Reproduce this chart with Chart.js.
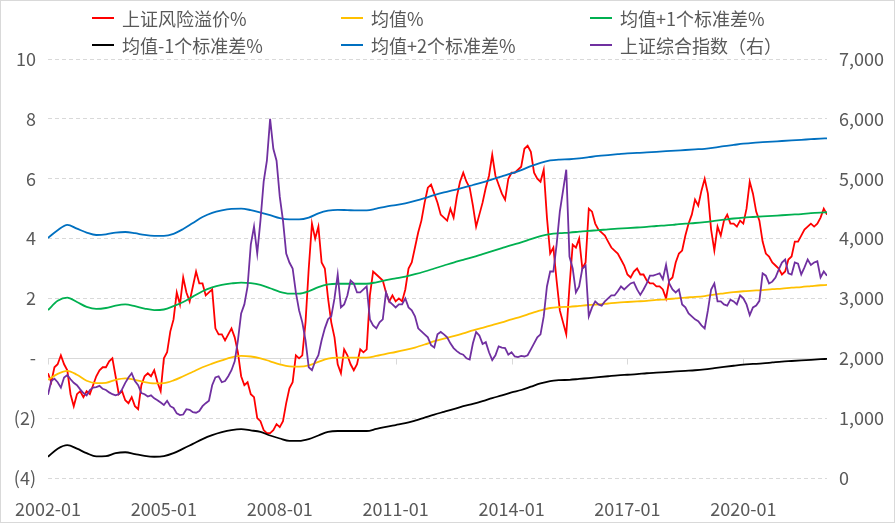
<!DOCTYPE html>
<html>
<head>
<meta charset="utf-8">
<script src="https://cdn.jsdelivr.net/npm/chart.js@4.4.1/dist/chart.umd.min.js"></script>
<style>
  body { margin: 0; background: #fff; }
  #wrap { position: relative; width: 895px; height: 523px; }
  #legend { position: absolute; left: 0; top: 0; width: 895px; height: 59px;
            font: 18px "Noto Sans CJK SC", sans-serif; color: #595959; }
  .item { position: absolute; line-height: 22px; white-space: nowrap; }
  .item i { position: absolute; left: -30px; top: 10px; width: 22px; height: 2px; }
</style>
</head>
<body>
<div id="wrap"><canvas id="chart"></canvas><div id="legend"></div></div>
<script>
// x axis = months since 2002-01
const tickMonths = [0, 36, 72, 108, 144, 180, 216];
const tickLabels = ["2002-01", "2005-01", "2008-01", "2011-01", "2014-01", "2017-01", "2020-01"];

const seriesNames = ["上证风险溢价%", "均值%", "均值+1个标准差%", "均值-1个标准差%", "均值+2个标准差%", "上证综合指数（右）"];
const seriesColors = ["#ff0000", "#ffc000", "#00b050", "#000000", "#0070c0", "#7030a0"];

// monthly, 2002-01 .. 2022-03
const premium = [
  -0.5, -0.8, -0.3, -0.2, 0.1, -0.2, -0.4, -1.2, -1.6, -1.2, -1.1, -1.3,
  -1.1, -1.2, -0.9, -0.6, -0.4, -0.3, -0.3, -0.1, 0.0, -0.6, -1.2, -1.1,
  -1.4, -1.5, -1.3, -1.6, -1.7, -0.9, -0.6, -0.5, -0.6, -0.4, -0.8, -1.1,
  0.0, 0.2, 0.9, 1.3, 2.2, 1.8, 2.7, 2.2, 1.9, 2.4, 2.9, 2.5,
  2.5, 2.1, 2.2, 2.3, 1.0, 0.8, 0.8, 0.6, 0.8, 1.0, 0.7, 0.2,
  -0.6, -0.9, -0.8, -1.2, -1.3, -2.0, -2.1, -2.4, -2.5, -2.5, -2.4, -2.2,
  -2.3, -2.1, -1.5, -1.0, -0.8, 0.1, 0.0, 0.1, 1.2, 3.0, 4.5, 4.0,
  4.4, 3.2, 3.0, 2.0, 1.2, 0.7, -0.2, -0.5, 0.3, 0.1, -0.2, -0.4,
  -0.2, 0.3, 0.2, 0.3, 2.1, 2.9, 2.8, 2.7, 2.6, 2.2, 1.9, 2.1,
  1.9, 2.0, 1.9, 2.3, 3.0, 3.2, 3.7, 4.2, 4.6, 5.2, 5.7, 5.8,
  5.5, 5.2, 4.8, 4.7, 4.6, 5.0, 4.7, 5.4, 5.9, 6.2, 5.9, 5.7,
  5.1, 4.4, 4.8, 5.2, 5.7, 6.1, 6.8, 6.1, 5.8, 5.5, 5.3, 6.0,
  6.2, 6.2, 6.3, 6.4, 7.0, 7.1, 6.9, 6.2, 6.0, 5.9, 6.3, 4.7,
  3.5, 3.7, 2.6, 1.6, 1.2, 0.8, 2.4, 3.8, 3.7, 4.0, 3.0, 3.2,
  5.0, 4.9, 4.5, 4.3, 4.2, 4.1, 3.9, 3.7, 3.6, 3.5, 3.3, 3.1,
  2.8, 2.7, 2.9, 3.0, 2.8, 2.8, 2.6, 2.5, 2.5, 2.4, 2.4, 2.3,
  2.0, 2.6, 2.7, 3.2, 3.5, 3.6, 4.1, 4.5, 4.8, 5.3, 5.1, 5.6,
  6.0, 5.5, 4.3, 3.6, 4.4, 4.1, 4.6, 4.8, 4.5, 4.5, 4.4, 4.6,
  4.5, 5.0, 5.9, 5.5, 4.9, 4.6, 3.9, 3.5, 3.4, 3.2, 3.1, 3.0,
  2.8, 2.9, 3.3, 3.4, 3.9, 3.9, 4.1, 4.3, 4.4, 4.5, 4.4, 4.5,
  4.7, 5.0, 4.8
];

const sseIndex = [
  1390, 1620, 1660, 1600, 1510, 1680, 1720, 1650, 1590, 1550, 1480, 1420,
  1380, 1470, 1510, 1520, 1540, 1490, 1470, 1430, 1400, 1380, 1400, 1480,
  1590, 1680, 1750, 1620, 1550, 1420, 1400, 1360, 1380, 1330, 1300, 1260,
  1220, 1290, 1200, 1170, 1080, 1050, 1060, 1150, 1140, 1100, 1090, 1120,
  1200, 1250, 1290, 1550, 1680, 1700, 1600, 1620, 1700, 1800, 1950, 2300,
  2750, 2900, 3200, 3900, 4200, 3750, 4300, 4950, 5300, 6000, 5500, 5300,
  4700, 4300, 3750, 3600, 3500, 3100, 2800, 2600, 2300, 1850, 1800, 1950,
  2050, 2300, 2500, 2650, 2700, 3000, 3400, 2850, 2900, 3050, 3300, 3250,
  3100, 3100, 3150, 3200, 2650, 2550, 2500, 2600, 2650, 3100, 2950, 2900,
  2850, 2900, 2900, 3000, 2850, 2800, 2700, 2500, 2450, 2400, 2350, 2220,
  2180, 2400, 2440, 2400, 2350, 2250, 2170, 2120, 2080, 2060, 2000, 1980,
  2250, 2440, 2380, 2240, 2270, 2100, 1970, 2050, 2200, 2180, 2170, 2060,
  2100, 2030, 2020, 2040, 2030, 2050, 2150, 2250, 2350, 2400, 2700, 3200,
  3450, 3450, 3900, 4450, 4800, 5150, 3700, 3500, 3100, 3200, 3500, 3550,
  2700, 2850, 2950, 2900, 2880, 2950, 3000, 3050, 3050, 3120, 3200, 3150,
  3200, 3250, 3270, 3150, 3060, 3150, 3250, 3380, 3380, 3400, 3420, 3320,
  3560, 3250, 3150, 3100, 3150, 2900, 2850, 2750, 2700, 2650, 2620, 2550,
  2500, 2800, 3150, 3250, 2950, 2950, 2900, 2880, 2980, 2950, 2900, 3050,
  3000, 2900, 2720, 2850, 2880, 2960, 3420, 3380, 3250, 3280, 3350, 3480,
  3600, 3650, 3420, 3400, 3600, 3580, 3400, 3520, 3650, 3560, 3600, 3620,
  3350, 3450, 3380
];

// quarterly points (every 3 months, last one 2022-03)
const bandMonths = [];
for (let m = 0; m <= 240; m += 3) bandMonths.push(m);
bandMonths.push(242);

const meanLine = [
  -0.72, -0.52, -0.42, -0.55, -0.75, -0.83, -0.82, -0.72, -0.67, -0.72, -0.80, -0.84,
  -0.83, -0.74, -0.60, -0.45, -0.30, -0.18, -0.07, 0.03, 0.08, 0.06, 0.00, -0.10,
  -0.20, -0.27, -0.28, -0.24, -0.12, -0.01, 0.02, 0.02, 0.02, 0.02, 0.08, 0.15,
  0.21, 0.28, 0.36, 0.46, 0.57, 0.66, 0.74, 0.83, 0.93, 1.02, 1.11, 1.20,
  1.30, 1.39, 1.50, 1.60, 1.68, 1.71, 1.72, 1.75, 1.78, 1.80, 1.83, 1.86,
  1.88, 1.90, 1.92, 1.95, 1.97, 2.00, 2.03, 2.05, 2.08, 2.13, 2.17, 2.21,
  2.24, 2.26, 2.28, 2.31, 2.33, 2.36, 2.38, 2.41, 2.44, 2.45
];
const plus1Sd = [
  1.61, 1.92, 2.03, 1.88, 1.72, 1.65, 1.68, 1.76, 1.80, 1.74, 1.66, 1.61,
  1.63, 1.74, 1.88, 2.06, 2.24, 2.37, 2.45, 2.50, 2.53, 2.51, 2.45, 2.34,
  2.22, 2.16, 2.16, 2.24, 2.38, 2.47, 2.49, 2.49, 2.49, 2.49, 2.54, 2.61,
  2.67, 2.73, 2.81, 2.90, 3.00, 3.10, 3.20, 3.29, 3.38, 3.48, 3.58, 3.68,
  3.78, 3.87, 3.98, 4.08, 4.15, 4.18, 4.20, 4.23, 4.26, 4.28, 4.31, 4.33,
  4.35, 4.37, 4.39, 4.42, 4.44, 4.47, 4.50, 4.52, 4.55, 4.59, 4.63, 4.67,
  4.70, 4.72, 4.74, 4.76, 4.78, 4.80, 4.82, 4.85, 4.87, 4.88
];
const minus1Sd = [
  -3.29, -3.02, -2.90, -3.02, -3.17, -3.28, -3.27, -3.17, -3.14, -3.20, -3.26, -3.29,
  -3.27, -3.17, -3.02, -2.86, -2.70, -2.57, -2.47, -2.40, -2.37, -2.41, -2.46, -2.58,
  -2.68, -2.76, -2.76, -2.70, -2.58, -2.46, -2.43, -2.43, -2.43, -2.43, -2.36, -2.29,
  -2.23, -2.17, -2.08, -1.98, -1.88, -1.79, -1.70, -1.60, -1.52, -1.43, -1.33, -1.24,
  -1.14, -1.06, -0.95, -0.84, -0.76, -0.73, -0.72, -0.69, -0.66, -0.63, -0.60, -0.57,
  -0.55, -0.53, -0.50, -0.48, -0.46, -0.44, -0.42, -0.40, -0.37, -0.33, -0.29, -0.25,
  -0.21, -0.19, -0.17, -0.14, -0.11, -0.09, -0.07, -0.05, -0.03, -0.02
];
const plus2Sd = [
  4.02, 4.28, 4.46, 4.33, 4.20, 4.12, 4.14, 4.20, 4.22, 4.18, 4.12, 4.09,
  4.09, 4.16, 4.32, 4.52, 4.72, 4.86, 4.94, 4.99, 5.00, 4.95, 4.87, 4.78,
  4.68, 4.64, 4.64, 4.70, 4.84, 4.93, 4.96, 4.95, 4.94, 4.94, 5.00, 5.07,
  5.12, 5.18, 5.26, 5.35, 5.45, 5.54, 5.62, 5.70, 5.79, 5.88, 5.98, 6.08,
  6.18, 6.29, 6.42, 6.53, 6.61, 6.64, 6.65, 6.68, 6.72, 6.76, 6.79, 6.82,
  6.85, 6.86, 6.88, 6.90, 6.92, 6.94, 6.96, 6.98, 7.00, 7.04, 7.09, 7.13,
  7.17, 7.20, 7.22, 7.24, 7.26, 7.28, 7.30, 7.32, 7.34, 7.35
];

const monthly = arr => arr.map((v, i) => ({ x: i, y: v }));
const quarterly = arr => arr.map((v, i) => ({ x: bandMonths[i], y: v }));

const makeLine = (i, data, axis, order, smooth) => ({
  label: seriesNames[i],
  data: data,
  borderColor: seriesColors[i],
  backgroundColor: seriesColors[i],
  borderWidth: 1.8,
  pointRadius: 0,
  cubicInterpolationMode: smooth ? "monotone" : "default",
  tension: smooth ? 0.4 : 0,
  yAxisID: axis,
  order: order,
});

// html legend, 3 columns x 2 rows
const legendEl = document.getElementById("legend");
seriesNames.forEach((name, i) => {
  const el = document.createElement("div");
  el.className = "item";
  el.style.left = (122 + (i % 3) * 249) + "px";
  el.style.top = (7 + Math.floor(i / 3) * 27) + "px";
  el.innerHTML = `<i style="background:${seriesColors[i]}"></i>${name}`;
  legendEl.appendChild(el);
});

//zero line with tick marks + outer frame
const framePlugin = {
  id: "framePlugin",
  beforeDatasetsDraw(chart) {
    const { ctx, chartArea, scales } = chart;
    const y0 = Math.round(scales.y.getPixelForValue(0)) + 0.5;
    ctx.save();
    ctx.strokeStyle = "#d9d9d9";
    ctx.lineWidth = 1;
    ctx.beginPath();
    ctx.moveTo(chartArea.left, y0);
    ctx.lineTo(chartArea.right, y0);
    tickMonths.forEach(m => {
      const x = Math.round(scales.x.getPixelForValue(m)) + 0.5;
      ctx.moveTo(x, y0);
      ctx.lineTo(x, y0 + 6);
    });
    ctx.stroke();
    ctx.restore();
  },
  afterDraw(chart) {
    const { ctx, width, height } = chart;
    ctx.save();
    ctx.strokeStyle = "#d9d9d9";
    ctx.lineWidth = 1;
    ctx.strokeRect(0.5, 0.5, width - 1, height - 1);
    ctx.restore();
  },
};

Chart.defaults.font.family = '"Noto Sans CJK SC", "Noto Sans", sans-serif';
Chart.defaults.font.size = 18;
Chart.defaults.color = "#595959";

new Chart(document.getElementById("chart"), {
  type: "line",
  plugins: [framePlugin],
  data: {
    datasets: [
      makeLine(0, monthly(premium), "y", 6, false),
      makeLine(1, quarterly(meanLine), "y", 5, true),
      makeLine(2, quarterly(plus1Sd), "y", 4, true),
      makeLine(3, quarterly(minus1Sd), "y", 3, true),
      makeLine(4, quarterly(plus2Sd), "y", 2, true),
      makeLine(5, monthly(sseIndex), "y1", 1, false),
    ],
  },
  options: {
    responsive: true,
    maintainAspectRatio: false,
    animation: false,
    layout: { padding: { top: 59, left: 0, right: 0, bottom: 0 } },
    plugins: { legend: { display: false }, tooltip: { enabled: false } },
    scales: {
      x: {
        type: "linear",
        min: 0,
        max: 242,
        grid: { display: false },
        border: { display: false },
        ticks: { padding: 12, maxRotation: 0, autoSkip: false, callback: (v, i) => tickLabels[i] },
        afterBuildTicks: s => { s.ticks = tickMonths.map(v => ({ value: v })); },
        afterFit: s => { s.height = 45; },
      },
      y: {
        position: "left",
        min: -4,
        max: 10,
        ticks: {
          stepSize: 2,
          padding: 12,
          callback: v => (v === 0 ? "-" : v < 0 ? "(" + (-v) + ")" : v),
        },
        grid: { color: "#d9d9d9", drawTicks: false },
        border: { display: false, dash: [4, 3] },
        afterFit: s => { s.width = 48; },
      },
      y1: {
        position: "right",
        min: 0,
        max: 7000,
        ticks: { stepSize: 1000, padding: 12, callback: v => v.toLocaleString("en-US") },
        grid: { drawOnChartArea: false, drawTicks: false },
        border: { display: false },
        afterFit: s => { s.width = 68; },
      },
    },
  },
});
</script>
</body>
</html>
